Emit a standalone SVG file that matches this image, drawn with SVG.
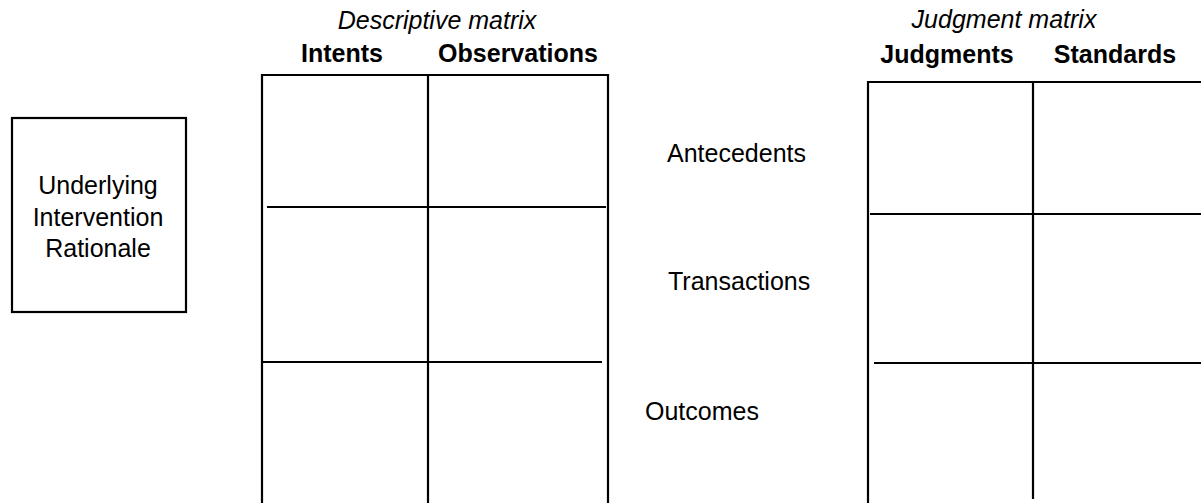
<svg xmlns="http://www.w3.org/2000/svg" width="1201" height="503" viewBox="0 0 1201 503">
<style>
.t{font-family:"Liberation Sans",Arial,sans-serif;font-size:25px;fill:#000}
.b{font-weight:bold}
.i{font-style:italic}
.ln{stroke:#000;stroke-width:2.2;fill:none}
</style>
<rect x="0" y="0" width="1201" height="503" fill="#fff"/>
<g id="rationale">
<rect x="12" y="118" width="174" height="194" class="ln"/>
<text class="t" x="98" y="194" text-anchor="middle">Underlying</text>
<text class="t" x="98" y="226" text-anchor="middle">Intervention</text>
<text class="t" x="98" y="257" text-anchor="middle">Rationale</text>
</g>
<g id="descriptive-matrix">
<text class="t i" x="437" y="29" text-anchor="middle">Descriptive matrix</text>
<text class="t b" x="342" y="62" text-anchor="middle">Intents</text>
<text class="t b" x="518" y="62" text-anchor="middle">Observations</text>
<path class="ln" d="M262,503 V75 H608 V503 M428,75 V503 M267,207 H606 M263,362 H602"/>
</g>
<g id="row-labels">
<text class="t" x="667" y="162">Antecedents</text>
<text class="t" x="668" y="290">Transactions</text>
<text class="t" x="645" y="420">Outcomes</text>
</g>
<g id="judgment-matrix">
<text class="t i" x="1004" y="28" text-anchor="middle">Judgment matrix</text>
<text class="t b" x="947" y="63" text-anchor="middle">Judgments</text>
<text class="t b" x="1115" y="63" text-anchor="middle">Standards</text>
<path class="ln" d="M868,503 V82 H1201 M1033,82 V499 M870,214 H1201 M874,363 H1201"/>
</g>
<g id="connectors"></g>
</svg>
